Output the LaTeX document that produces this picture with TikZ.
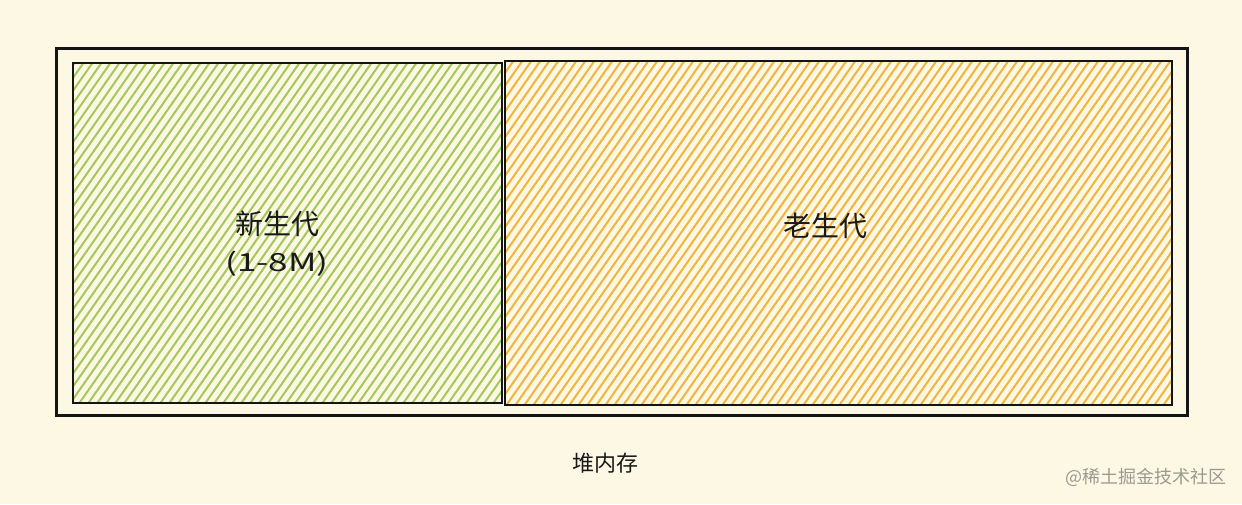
\documentclass[tikz,border=0pt]{standalone}
\usepackage{fontspec}
\newfontfamily\cjk{Noto Sans CJK SC}
\definecolor{bg}{HTML}{FDF8E3}
\definecolor{hgreen}{HTML}{A3C95E}
\definecolor{horange}{HTML}{F2B440}
\definecolor{wm}{HTML}{9A9A92}
\tikzset{
  box/.style={draw=black!92, line width=2.6pt},
  hatchg/.style={hgreen, line width=2pt},
  hatcho/.style={horange, line width=2pt},
  lbl/.style={font=\cjk\fontsize{28}{32}\selectfont, text=black!90, align=center}
}
\begin{document}
\begin{tikzpicture}[x=1pt,y=-1pt]
\fill[bg] (0,0) rectangle (1242,504);
\useasboundingbox (0,0) rectangle (1242,504);
% hatching green
\begin{scope}
\clip (72,62) rectangle (501,402);
\foreach \i in {-300,-291,...,520} \draw[hatchg] (\i,405) -- ++(245,-350);
\end{scope}
\begin{scope}
\clip (504,60) rectangle (1171,404);
\foreach \i in {260,269,...,1180} \draw[hatcho] (\i,410) -- ++(245,-350);
\end{scope}
\node[box, minimum width=1131pt, minimum height=367pt, anchor=north west, inner sep=0pt] (outer) at (55,47) {};
\node[box, line width=2.2pt, minimum width=429pt, minimum height=340pt, anchor=north west, inner sep=0pt] (young) at (72,62) {};
\node[box, line width=2.2pt, minimum width=667pt, minimum height=344pt, anchor=north west, inner sep=0pt] (old) at (504,60) {};
\node[lbl] (ytext) at (277,224) {新生代};
\node[lbl, font=\cjk\fontsize{25}{28}\selectfont] (ysize) at (277,264) {\scalebox{1.4}[1]{(1-8M)}};
\node[lbl] (otext) at (825,226) {老生代};
\node[lbl, font=\cjk\fontsize{22}{26}\selectfont] (heap) at (605,463) {堆内存};
\node[font=\cjk\fontsize{18}{22}\selectfont, text=wm] (wmk) at (1146,477) {@稀土掘金技术社区};
\end{tikzpicture}
\end{document}
